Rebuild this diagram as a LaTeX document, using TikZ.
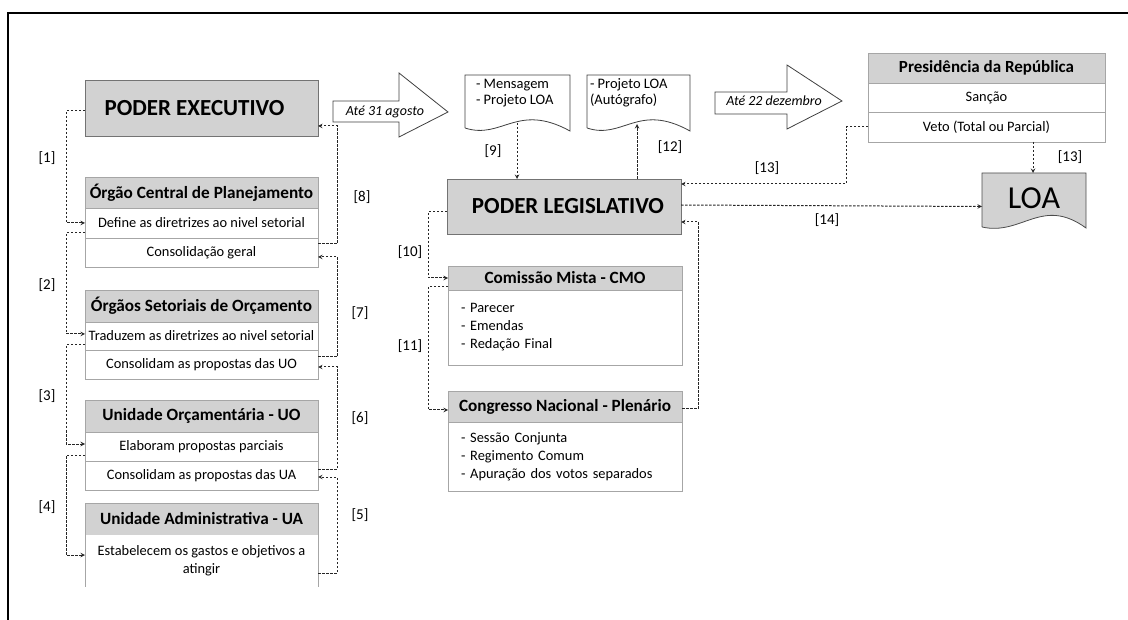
\documentclass[tikz,border=0pt]{standalone}
\usepackage{fontspec}
\setmainfont{Carlito}
\usetikzlibrary{arrows, positioning}

\begin{document}
\begin{tikzpicture}[x=1pt,y=-1pt,outer sep=0pt]
\tikzstyle{power} = [draw=black!55, fill=gray!35, rectangle, minimum width=233pt, minimum height=56pt, font=\bfseries\fontsize{23}{26}\selectfont]
\tikzstyle{head} = [draw=gray!70, fill=gray!35, rectangle, inner sep=0pt, minimum width=233pt, font=\bfseries\fontsize{17.2}{19}\selectfont]
\tikzstyle{row} = [draw=gray!70, fill=white, rectangle, inner sep=0pt, minimum width=233pt, font=\fontsize{14.4}{17}\selectfont]
\tikzstyle{num} = [font=\fontsize{15}{17}\selectfont]
\tikzstyle{paper} = [draw=black!75, fill=white, line width=0.8pt]
\tikzstyle{arrow} = [draw=black!85, line width=1pt, dash pattern=on 2.5pt off 1.5pt, ->, >=stealth]

\useasboundingbox (0,0) rectangle (1128,620);
\draw[line width=1.5pt] (8,620) -- (8,13) -- (1128,13);

% Executivo
\node[power] (exec) at (201.5,108) {PODER EXECUTIVO\hspace*{14pt}};
\node[head, minimum height=31pt] (ocp) at (201.5,192.5) {Órgão Central de Planejamento};
\node[row, minimum height=30pt, below=0pt of ocp] (ocp1) {Define as diretrizes ao nivel setorial};
\node[row, minimum height=29pt, below=0pt of ocp1] (ocp2) {Consolidação geral};
\node[head, minimum height=32pt] (osr) at (201.5,306) {Órgãos Setoriais de Orçamento};
\node[row, minimum height=28pt, below=0pt of osr] (osr1) {Traduzem as diretrizes ao nivel setorial};
\node[row, minimum height=29pt, below=0pt of osr1] (osr2) {Consolidam as propostas das UO};
\node[head, minimum height=32pt] (uo) at (201.5,416) {Unidade Orçamentária - UO};
\node[row, minimum height=29pt, below=0pt of uo] (uo1) {Elaboram propostas parciais};
\node[row, minimum height=29pt, below=0pt of uo1] (uo2) {Consolidam as propostas das UA};
\node[head, minimum height=32pt] (ua) at (201.5,519) {Unidade Administrativa - UA};
\node[row, draw=none, minimum height=52pt, below=0pt of ua, align=center, font=\fontsize{14.4}{18}\selectfont] (uabody) {Estabelecem os gastos e objetivos a\\atingir};
\draw[gray!70] (uabody.north west) -- (uabody.south west);
\draw[gray!70] (uabody.north east) -- (uabody.south east);

% descida
\draw [arrow] ([yshift=-3pt]exec.west) -- ++(-19,0) |- (ocp1.west);
\draw [arrow] ([yshift=-10pt]ocp1.west) -- ++(-19,0) |- ([yshift=2pt]osr1.west);
\draw [arrow] ([yshift=-9pt]osr1.west) -- ++(-19,0) |- ([yshift=2.5pt]uo1.west);
\draw [arrow] ([yshift=-8.5pt]uo1.west) -- ++(-19,0) |- ([yshift=6pt]uabody.west);
% subida
\draw [arrow] ([yshift=-12pt]uabody.east) -- ++(19,0) |- ([yshift=-1.5pt]uo2.east);
\draw [arrow] ([yshift=6.5pt]uo2.east) -- ++(19,0) |- ([yshift=-2.5pt]osr2.east);
\draw [arrow] ([yshift=7.5pt]osr2.east) -- ++(19,0) |- ([yshift=-4.5pt]ocp2.east);
\draw [arrow] ([yshift=8.5pt]ocp2.east) -- ++(19,0) |- ([yshift=-18pt]exec.east);

\node[num] (n1) at (47,158) {[1]};
\node[num] (n2) at (47,285) {[2]};
\node[num] (n3) at (47,396) {[3]};
\node[num] (n4) at (47,507) {[4]};
\node[num] (n5) at (360,515) {[5]};
\node[num] (n6) at (360,418) {[6]};
\node[num] (n7) at (360,313) {[7]};
\node[num] (n8) at (362,197) {[8]};

% prazos
\draw[paper] (333,101) -- (399,101) -- (399,73) -- (448,112) -- (399,137) -- (399,122) -- (333,122) -- cycle;
\node[font=\itshape\fontsize{14}{16}\selectfont] (prazo1) at (385,112) {Até 31 agosto};
\draw[paper] (715,92) -- (787,92) -- (787,65) -- (842,101) -- (787,129) -- (787,114) -- (715,114) -- cycle;
\node[font=\itshape\fontsize{14}{16}\selectfont] (prazo2) at (774,101) {Até 22 dezembro};

% documentos
\draw[paper] (465,128) -- (465,75) -- (570,75) -- (570,131) .. controls (517,102) and (502,140) .. (465,128);
\node[anchor=north west, align=left, inner sep=0pt, font=\fontsize{14.5}{16}\selectfont] (msg) at (476,79) {- Mensagem\\- Projeto LOA};
\draw[paper] (587,128) -- (587,75) -- (690,75) -- (690,131) .. controls (638,102) and (623,140) .. (587,128);
\node[anchor=north west, align=left, inner sep=0pt, font=\fontsize{14.5}{16}\selectfont] (autog) at (590,79) {- Projeto LOA\\(Autógrafo)};
\coordinate (msgw) at (517,123);
\coordinate (autw) at (637,124);

% Legislativo
\node[power, minimum width=234pt, minimum height=55pt] (leg) at (564,206.5) {\hspace*{8pt}PODER LEGISLATIVO};
\node[head, minimum width=234pt, minimum height=24pt] (cmo) at (565,278) {Comissão Mista - CMO};
\node[row, minimum width=234pt, minimum height=75pt, below=0pt of cmo, text width=208pt, align=left, font=\fontsize{14.4}{18}\selectfont] (cmobody) {- Parecer\\- Emendas\\- Redação Final};
\node[head, minimum width=234pt, minimum height=31pt] (cong) at (565,406.5) {Congresso Nacional - Plenário};
\node[row, minimum width=234pt, minimum height=69pt, below=0pt of cong, text width=208pt, align=left, font=\fontsize{14.4}{18}\selectfont] (congbody) {- Sessão Conjunta\\- Regimento Comum\\- Apuração dos votos separados};

\draw [arrow] (msgw) -- (msgw |- leg.north);
\draw [arrow] (autw |- leg.north) -- (autw);
\draw [arrow] ([yshift=-5.5pt]leg.west) -- ++(-19,0) |- (cmo.west);
\draw [arrow] ([yshift=-9pt]cmo.west) -- ++(-20,0) |- ([yshift=-3.5pt]cong.west);
\draw [arrow] ([yshift=-2.5pt]cong.east) -- ++(16,0) |- ([yshift=-15.5pt]leg.east);

\node[num] (n9) at (493,151) {[9]};
\node[num] (n12) at (670,147) {[12]};
\node[num] (n10) at (410,252) {[10]};
\node[num] (n11) at (410,346) {[11]};

% Presidencia
\node[head, minimum width=237pt, minimum height=30pt, font=\bfseries\fontsize{17}{19}\selectfont] (pres) at (986.5,68) {Presidência da República};
\node[row, minimum width=237pt, minimum height=29pt, below=0pt of pres, font=\fontsize{14.4}{16}\selectfont] (sancao) {Sanção};
\node[row, minimum width=237pt, minimum height=30pt, below=0pt of sancao, font=\fontsize{14.4}{16}\selectfont] (veto) {Veto (Total ou Parcial)};

% LOA
\draw[paper, draw=black!70, fill=gray!35] (982,227) -- (982,173) -- (1086,173) -- (1086,228) .. controls (1042,196) and (1022,236) .. (982,227);
\node[font=\fontsize{32}{34}\selectfont, minimum width=104pt, minimum height=54pt, inner sep=0pt] (loa) at (1034,200) {\raisebox{3pt}{LOA}};

\draw [arrow] (veto.west) -- ++(-22,0) |- ([yshift=22.5pt]leg.east);
\draw [arrow] ([xshift=46.5pt]veto.south) -- ([xshift=46.5pt]veto.south |- loa.north);
\draw [arrow] ([yshift=1.5pt]leg.east) -- (leg.east -| loa.west);

\node[num] (n13a) at (767,168) {[13]};
\node[num] (n13b) at (1070,157) {[13]};
\node[num] (n14) at (827,220) {[14]};
\end{tikzpicture}
\end{document}
